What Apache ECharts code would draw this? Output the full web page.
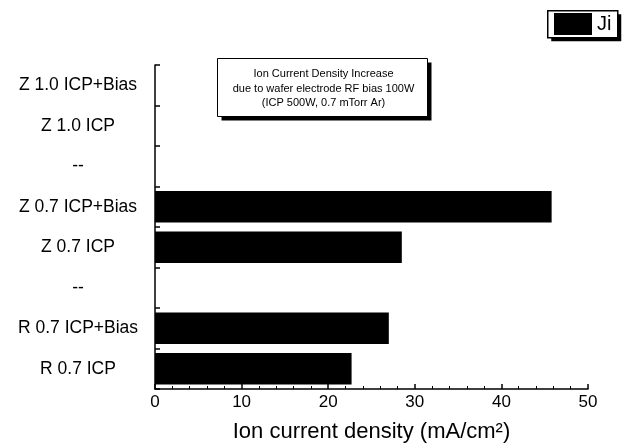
<!DOCTYPE html>
<html><head><meta charset="utf-8">
<script src="https://cdn.jsdelivr.net/npm/echarts@6/dist/echarts.min.js"></script>
<style>html,body{margin:0;padding:0;background:#fff}#c{width:625px;height:448px}</style>
</head><body><div id="c"></div>
<script>
var categories = ["R 0.7 ICP", "R 0.7 ICP+Bias", "--", "Z 0.7 ICP", "Z 0.7 ICP+Bias", "--", "Z 1.0 ICP", "Z 1.0 ICP+Bias"];
var jiValues = [22.7, 27.0, null, 28.5, 45.8, null, null, null];
var xTicks = [0, 10, 20, 30, 40, 50];
var noteLines = ["Ion Current Density Increase", "due to wafer electrode RF bias 100W", "(ICP 500W, 0.7 mTorr Ar)"];

var chart = echarts.init(document.getElementById('c'), null, {renderer: 'canvas'});
var font = 'Liberation Sans, Arial, sans-serif';
chart.setOption({
  animation: false,
  backgroundColor: '#fff',
  textStyle: {fontFamily: font, color: '#000'},
  grid: {left: 155, right: 37, top: 65, bottom: 57},
  legend: {
    data: ['Ji'], left: 547, top: 10, padding: [3, 5, 2, 7], z: 10,
    itemWidth: 38, itemHeight: 22, itemGap: 4, icon: 'rect',
    backgroundColor: 'transparent',
    textStyle: {fontSize: 20, color: '#000', fontFamily: font, padding: [2, 0, 0, 0]}
  },
  xAxis: {
    type: 'value', min: xTicks[0], max: xTicks[xTicks.length - 1], interval: 10,
    name: 'Ion current density (mA/cm²)', nameLocation: 'middle', nameGap: 32,
    nameTextStyle: {fontSize: 22, color: '#000', fontFamily: font, verticalAlign: 'top'},
    axisLine: {show: true, lineStyle: {color: '#000', width: 1.5}},
    axisTick: {show: true, inside: true, length: 5, lineStyle: {color: '#000', width: 1.5}},
    minorTick: {show: true, splitNumber: 5, length: 3, lineStyle: {color: '#000'}},
    splitLine: {show: false},
    axisLabel: {fontSize: 17, color: '#000', margin: 5, fontFamily: font}
  },
  yAxis: {
    type: 'category', data: categories,
    axisLine: {show: true, lineStyle: {color: '#000', width: 1.5}},
    axisTick: {show: true, inside: true, length: 5, lineStyle: {color: '#000', width: 1.5}},
    axisLabel: {fontSize: 17.5, color: '#000', align: 'center', margin: 77, fontFamily: font}
  },
  series: [{
    name: 'Ji', type: 'bar', data: jiValues, barCategoryGap: '22%',
    itemStyle: {color: '#000'}
  }],
  graphic: [{
    type: 'group', left: 547, top: 10, z: 1,
    children: [
      {type: 'rect', shape: {x: 4, y: 4, width: 70, height: 27}, style: {fill: '#000'}},
      {type: 'rect', shape: {x: 0.5, y: 0.5, width: 70, height: 27}, style: {fill: '#fff', stroke: '#000', lineWidth: 1.5}}
    ]
  }, {
    type: 'group', left: 217, top: 58,
    children: [
      {type: 'rect', shape: {x: 4, y: 4, width: 210, height: 58}, style: {fill: '#000'}},
      {type: 'rect', shape: {x: 0, y: 0, width: 210, height: 58}, style: {fill: '#fff', stroke: '#000', lineWidth: 1}},
      {type: 'text', x: 106, y: 15, style: {text: noteLines[0], fontSize: 11, fontFamily: font, fill: '#000', align: 'center', verticalAlign: 'middle'}},
      {type: 'text', x: 106, y: 30, style: {text: noteLines[1], fontSize: 11, fontFamily: font, fill: '#000', align: 'center', verticalAlign: 'middle'}},
      {type: 'text', x: 106, y: 44, style: {text: noteLines[2], fontSize: 11, fontFamily: font, fill: '#000', align: 'center', verticalAlign: 'middle'}}
    ]
  }]
});
</script></body></html>
